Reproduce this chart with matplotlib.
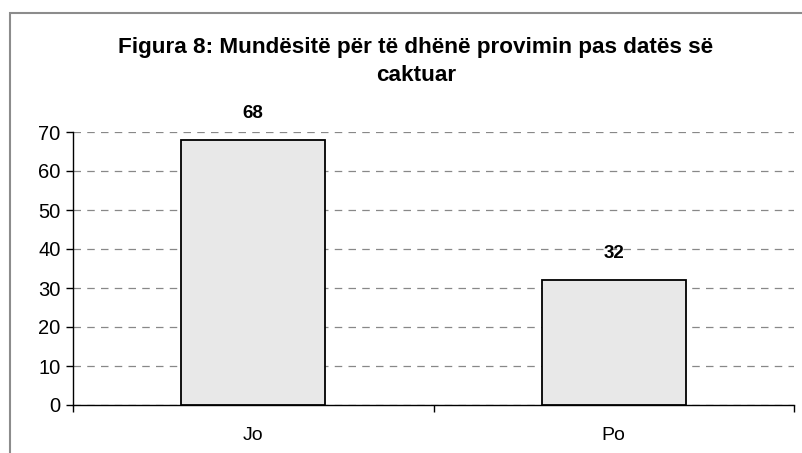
import numpy as np
from matplotlib import pyplot as plt
from matplotlib.patches import Rectangle

categories = ['Jo', 'Po']
values = [68, 32]
yticks = [0, 10, 20, 30, 40, 50, 60, 70]
title = 'Figura 8: Mundësitë për të dhënë provimin pas datës së\ncaktuar'

plt.rcParams['font.family'] = ['Liberation Sans', 'DejaVu Sans']

fig = plt.figure(figsize=(8.02, 4.53), dpi=100)
ax = fig.add_axes([73/802, 1-405/453, (794-73)/802, (405-132)/453])

# outer frame of the chart area (runs off right and bottom edges)
fig.patches.append(Rectangle((10/802, -0.2), 1.2, 0.2 + 1 - 13/453,
                             transform=fig.transFigure, fill=False,
                             edgecolor='#8c8c8c', linewidth=1.5, zorder=0))

x = np.arange(len(categories))
ax.bar(x, values, width=0.4, color='#e8e8e8', edgecolor='black', linewidth=1.3, zorder=3)

for xi, v in zip(x, values):
    ax.annotate(str(v), (xi, v), xytext=(0, 13), textcoords='offset points',
                ha='center', va='bottom', fontsize=13.5, fontweight='bold')

ax.set_xlim(-0.5, len(categories) - 0.5)
ax.set_ylim(0, 70)
ax.set_yticks(yticks)
ax.tick_params(axis='y', labelsize=14.5, length=5, width=1, pad=4)

ax.set_xticks(np.arange(len(categories) + 1) - 0.5)
ax.set_xticklabels([])
ax.set_xticks(x, minor=True)
ax.set_xticklabels(categories, minor=True)
ax.tick_params(axis='x', which='major', length=5, width=1)
ax.tick_params(axis='x', which='minor', length=0, labelsize=14, pad=16)

ax.yaxis.grid(True, linestyle=(0, (6, 5)), color='#888888', linewidth=0.9, zorder=0)
ax.set_axisbelow(True)
for s in ['top', 'right']:
    ax.spines[s].set_visible(False)
ax.spines['left'].set_linewidth(1)
ax.spines['bottom'].set_linewidth(1)

fig.text(0.5 + 15/802, 1 - 61.5/453, title, ha='center', va='center',
         fontsize=16.2, fontweight='bold', linespacing=1.38)

plt.savefig('out.png', dpi=100)
